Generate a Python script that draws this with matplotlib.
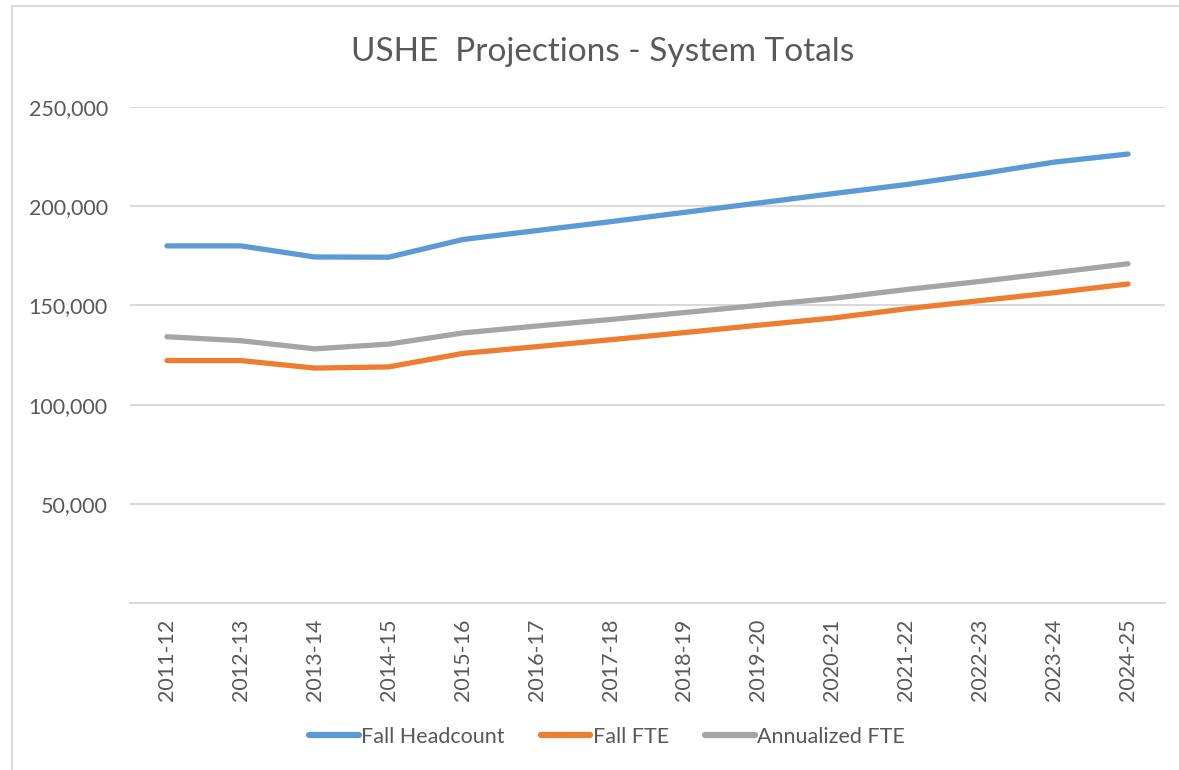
import matplotlib
matplotlib.use("Agg")
import matplotlib.pyplot as plt
from matplotlib.patches import Rectangle
from matplotlib.ticker import FuncFormatter

years = ["2011-12", "2012-13", "2013-14", "2014-15", "2015-16", "2016-17", "2017-18",
         "2018-19", "2019-20", "2020-21", "2021-22", "2022-23", "2023-24", "2024-25"]
fall_headcount = [180000, 180000, 174400, 174300, 183200, 187700, 192200,
                  196900, 201600, 206300, 210900, 216300, 222200, 226300]
fall_fte = [122200, 122200, 118400, 119000, 125800, 129200, 132700,
            136300, 140000, 143600, 148300, 152400, 156400, 160800]
annualized_fte = [134200, 132200, 128100, 130500, 136100, 139600, 142900,
                  146400, 150000, 153500, 158000, 162100, 166500, 171000]
yticks = [50000, 100000, 150000, 200000, 250000]

plt.rcParams['font.family'] = ['Lato', 'DejaVu Sans']
W, H = 1179, 770
fig = plt.figure(figsize=(W / 100, H / 100), dpi=100)
fig.patch.set_facecolor('white')

# outer chart border
fig.patches.append(Rectangle((12 / W, -0.1), 1.2, 1 - 6 / H + 0.1, transform=fig.transFigure,
                             fill=False, edgecolor='#D9D9D9', linewidth=1.5, zorder=0))

ax = fig.add_axes([130 / W, 1 - 603 / H, (1165 - 130) / W, (603 - 107) / H])
x = list(range(len(years)))
lw = 3.8
ax.plot(x, fall_headcount, color='#5B9BD5', lw=lw, solid_capstyle='round', solid_joinstyle='round', label='Fall Headcount', zorder=3)
ax.plot(x, fall_fte, color='#ED7D31', lw=lw, solid_capstyle='round', solid_joinstyle='round', label='Fall FTE', zorder=3)
ax.plot(x, annualized_fte, color='#A5A5A5', lw=lw, solid_capstyle='round', solid_joinstyle='round', label='Annualized FTE', zorder=3)

ax.set_xlim(-0.5, len(years) - 0.5)
ax.set_ylim(0, 250000)
ax.set_yticks(yticks)
ax.yaxis.set_major_formatter(FuncFormatter(lambda v, p: f"{int(v):,}"))
ax.set_xticks(x)
ax.set_xticklabels(years, rotation=90)
ax.grid(axis='y', color='#D9D9D9', linewidth=1.5)
ax.set_axisbelow(True)
for s in ['top', 'right', 'left']:
    ax.spines[s].set_visible(False)
ax.spines['bottom'].set_color('#D9D9D9')
ax.spines['bottom'].set_linewidth(1.5)
ax.tick_params(axis='both', length=0, labelsize=15.5, colors='#595959')
ax.tick_params(axis='y', pad=16)
ax.tick_params(axis='x', pad=11)

fig.text(603 / W, 1 - 52 / H, "USHE  Projections - System Totals", ha='center', va='center',
         fontsize=24, color='#595959')

leg = fig.legend(loc='center', bbox_to_anchor=(607 / W, 1 - 737 / H), ncol=3, frameon=False,
                 fontsize=15.5, handlelength=2.3, handletextpad=0.1, columnspacing=1.7,
                 labelcolor='#595959')
for h in leg.get_lines():
    h.set_linewidth(4.5)

fig.savefig("out.png", dpi=100, facecolor='white')
